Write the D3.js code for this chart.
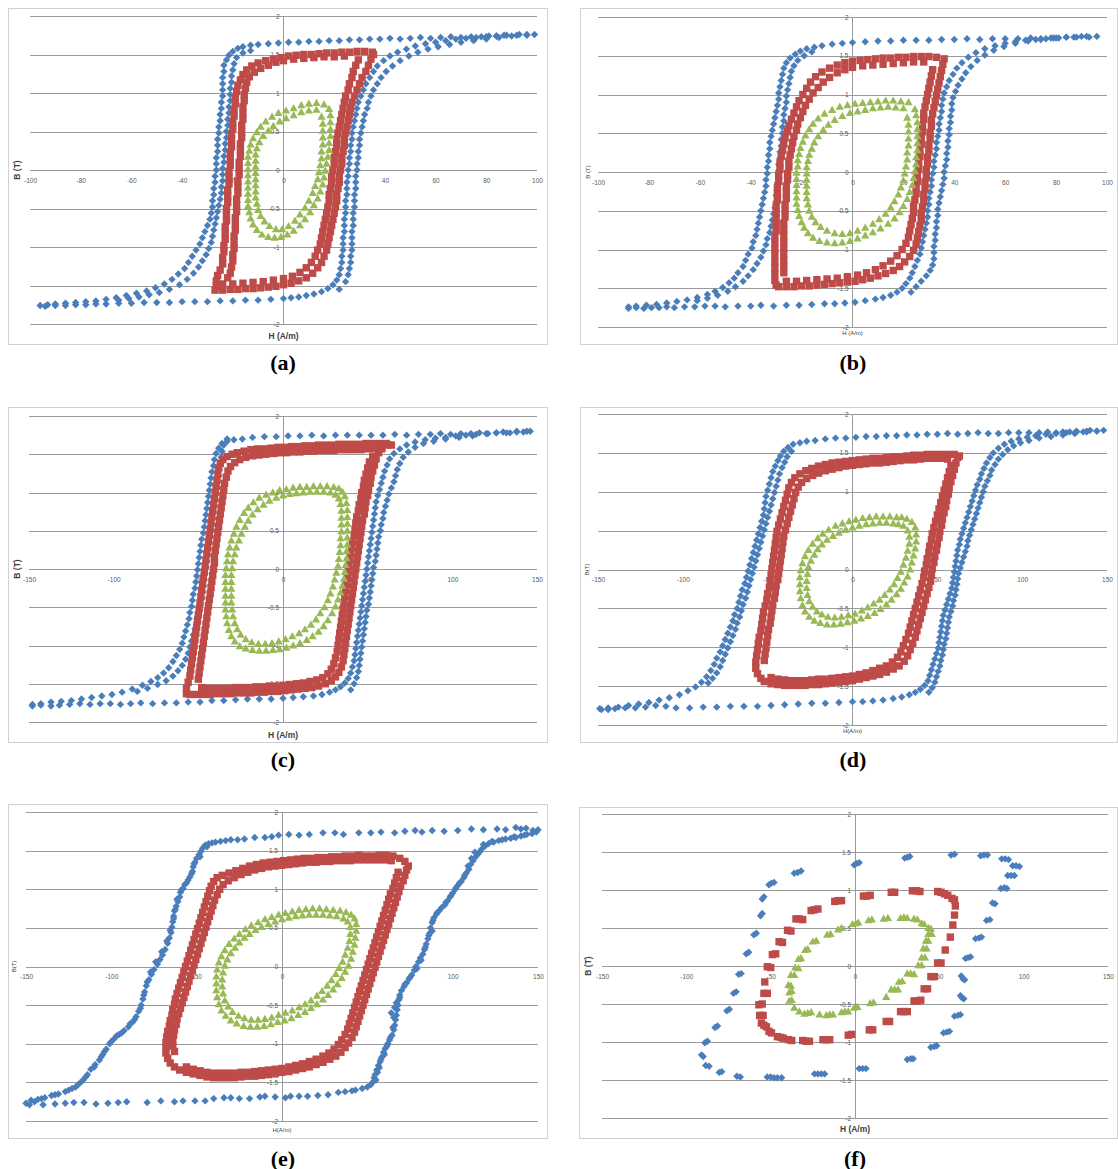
<!DOCTYPE html>
<html>
<head>
<meta charset="utf-8">
<script src="https://cdn.jsdelivr.net/npm/d3@7"></script>
<style>
  html, body { margin: 0; padding: 0; background: #ffffff; }
  svg { display: block; }
</style>
</head>
<body>
<svg id="fig" width="1118" height="1169"></svg>
<script>
// Tick values shared by the six hysteresis plots
const ticksB = [-2, -1.5, -1, -0.5, 0, 0.5, 1, 1.5, 2];
const ticksH100 = [-100, -80, -60, -40, -20, 0, 20, 40, 60, 80, 100];
const ticksH150 = [-150, -100, -50, 0, 50, 100, 150];
const panelLetters = ["(a)", "(b)", "(c)", "(d)", "(e)", "(f)"];

// ---------- (a) measured B-H points, [H (A/m), B (T)] ----------
const aBlue = [
  // descending branch: upper saturation, left flank, lower tail
  [99,1.76],[96,1.75],[93,1.76],[90,1.74],[87,1.75],[84,1.74],[81,1.74],[78,1.73],[74,1.73],[70,1.72],[66,1.73],[62,1.72],[58,1.71],[54,1.72],[50,1.71],[46,1.70],[42,1.71],[38,1.70],[34,1.70],[30,1.69],[26,1.69],[22,1.68],[18,1.68],[14,1.67],[10,1.67],[6,1.66],[2,1.66],[-2,1.65],[-6,1.64],[-10,1.63],[-13,1.62],[-16,1.60],[-18,1.58],[-20,1.54],[-21.5,1.49],[-22.5,1.43],[-23.5,1.36],[-23.5,1.28],[-24,1.20],[-24,1.12],[-24,1.04],[-24,0.96],[-24.5,0.88],[-24.5,0.80],[-25,0.72],[-25,0.64],[-25.5,0.56],[-25.5,0.48],[-26,0.40],[-26,0.32],[-26,0.24],[-26.5,0.16],[-26.5,0.08],[-26.5,0],[-27,-0.08],[-27,-0.16],[-27.5,-0.24],[-27.5,-0.32],[-28,-0.40],[-28,-0.48],[-28.5,-0.56],[-29,-0.64],[-30,-0.72],[-31,-0.80],[-32,-0.88],[-33,-0.96],[-34.5,-1.04],[-36,-1.12],[-37.5,-1.20],[-39,-1.28],[-41.5,-1.35],[-44,-1.42],[-47,-1.48],[-50.5,-1.53],[-54,-1.57],[-58,-1.60],[-62,-1.63],[-66,-1.66],[-70,-1.68],[-74,-1.70],[-78,-1.71],[-82,-1.72],[-86,-1.73],[-90,-1.74],[-93,-1.75],[-96,-1.76],
  [-13,1.55],[-16,1.52],[-18.5,1.46],[-19.5,1.38],[-20,1.30],[-20.5,1.22],[-20.5,1.14],[-21,1.06],[-21,0.98],[-21,0.90],[-21.5,0.82],[-21.5,0.74],[-22,0.66],[-22,0.58],[-22.5,0.50],[-22.5,0.42],[-23,0.34],[-23,0.26],[-23.5,0.18],[-23.5,0.10],[-24,0.02],[-24,-0.06],[-24,-0.14],[-24.5,-0.22],[-24.5,-0.30],[-25,-0.38],[-25.5,-0.46],[-26,-0.54],[-26.5,-0.62],[-27,-0.70],[-27.5,-0.78],[-28,-0.86],[-28.5,-0.94],[-29.5,-1.02],[-30.5,-1.10],[-32,-1.18],[-33.5,-1.26],[-35.5,-1.34],[-38,-1.42],[-41,-1.49],[-45,-1.55],[-49,-1.59],[-53,-1.62],[-57,-1.65],[-61,-1.67],[-65,-1.69],
  // ascending branch: lower saturation, right flank, upper knee
  [-94,-1.77],[-90,-1.76],[-86,-1.76],[-82,-1.75],[-78,-1.75],[-74,-1.74],[-70,-1.74],[-65,-1.73],[-60,-1.73],[-55,-1.72],[-50,-1.72],[-45,-1.72],[-40,-1.71],[-35,-1.71],[-30,-1.71],[-25,-1.70],[-20,-1.70],[-15,-1.69],[-10,-1.69],[-5,-1.68],[0,-1.67],[3,-1.66],[6,-1.65],[9,-1.63],[12,-1.61],[15,-1.58],[17.5,-1.54],[19.5,-1.49],[21,-1.43],[22,-1.36],[22.5,-1.28],[23,-1.20],[23,-1.12],[23.5,-1.04],[23.5,-0.96],[23.5,-0.88],[24,-0.80],[24,-0.72],[24,-0.64],[24.5,-0.56],[24.5,-0.48],[24.5,-0.40],[25,-0.32],[25,-0.24],[25,-0.16],[25.5,-0.08],[25.5,0],[26,0.08],[26,0.16],[26.5,0.24],[26.5,0.32],[27,0.40],[27,0.48],[27.5,0.56],[28,0.64],[28.5,0.72],[29,0.80],[29.5,0.88],[30.5,0.96],[31.5,1.04],[32.5,1.12],[34,1.20],[35.5,1.28],[37,1.35],[39.5,1.42],[42,1.48],[45,1.53],[48.5,1.57],[52,1.61],[56,1.64],[60,1.66],[64,1.68],[68,1.70],[72,1.71],[76,1.72],[80,1.73],[84,1.74],[88,1.75],[92,1.75],[96,1.76],
  [22,-1.55],[24.5,-1.45],[25.5,-1.36],[26,-1.28],[26.5,-1.20],[26.5,-1.12],[27,-1.04],[27,-0.96],[27,-0.88],[27,-0.80],[27.5,-0.72],[27.5,-0.64],[27.5,-0.56],[28,-0.48],[28,-0.40],[28,-0.32],[28.5,-0.24],[28.5,-0.16],[28.5,-0.08],[29,0],[29,0.08],[29.5,0.16],[29.5,0.24],[30,0.32],[30,0.40],[30.5,0.48],[31,0.56],[31.5,0.64],[32,0.72],[33,0.80],[33.5,0.88],[34.5,0.96],[35.5,1.04],[37,1.12],[38.5,1.20],[40.5,1.28],[43,1.35],[46,1.42],[49.5,1.48],[53,1.53],[57,1.57],[61,1.60],[65.5,1.63],[70,1.66],[75,1.68],[80,1.70],[85,1.72]
];
const aRed = [
  [35,1.53],[32,1.54],[29,1.54],[26,1.53],[23,1.53],[20,1.52],[17,1.52],[14,1.51],[11,1.50],[8,1.50],[5,1.49],[2,1.48],[-1,1.46],[-4,1.44],[-7,1.42],[-10,1.39],[-12.5,1.35],[-14.5,1.30],[-16,1.24],[-17,1.17],[-18,1.10],[-18.5,1.02],[-19,0.94],[-19,0.86],[-19.5,0.78],[-19.5,0.70],[-20,0.62],[-20,0.54],[-20.5,0.46],[-20.5,0.38],[-20.5,0.30],[-21,0.22],[-21,0.14],[-21,0.06],[-21.5,-0.02],[-21.5,-0.10],[-21.5,-0.18],[-22,-0.26],[-22,-0.34],[-22,-0.42],[-22.5,-0.50],[-22.5,-0.58],[-22.5,-0.66],[-23,-0.74],[-23,-0.82],[-23,-0.90],[-23.5,-0.98],[-23.5,-1.06],[-24,-1.14],[-24,-1.22],[-25,-1.30],[-26,-1.37],[-26.5,-1.44],[-26.5,-1.51],
  [-6,1.36],[-9,1.32],[-11.5,1.27],[-13.5,1.21],[-14.5,1.14],[-15,1.06],[-15.5,0.98],[-15.5,0.90],[-16,0.82],[-16,0.74],[-16,0.66],[-16.5,0.58],[-16.5,0.50],[-16.5,0.42],[-17,0.34],[-17,0.26],[-17,0.18],[-17.5,0.10],[-17.5,0.02],[-17.5,-0.06],[-18,-0.14],[-18,-0.22],[-18,-0.30],[-18.5,-0.38],[-18.5,-0.46],[-18.5,-0.54],[-19,-0.62],[-19,-0.70],[-19,-0.78],[-19.5,-0.86],[-19.5,-0.94],[-19.5,-1.02],[-20,-1.10],[-20,-1.18],[-20.5,-1.26],[-21,-1.34],[-22,-1.40],
  [-27,-1.56],[-24,-1.56],[-21,-1.55],[-18,-1.55],[-15,-1.54],[-12,-1.54],[-9,-1.53],[-6,-1.52],[-3,-1.51],[0,-1.49],[3,-1.47],[6,-1.44],[9,-1.40],[11.5,-1.34],[13.5,-1.27],[15,-1.20],[16,-1.12],[17,-1.04],[17.5,-0.96],[18,-0.88],[18.5,-0.80],[19,-0.72],[19.5,-0.64],[20,-0.56],[20.5,-0.48],[21,-0.40],[21,-0.32],[21.5,-0.24],[22,-0.16],[22,-0.08],[22.5,0],[23,0.08],[23,0.16],[23.5,0.24],[24,0.32],[24,0.40],[24.5,0.48],[25,0.56],[25.5,0.64],[26,0.72],[26.5,0.80],[27,0.88],[28,0.96],[29,1.04],[30,1.12],[31,1.20],[32.5,1.28],[33.5,1.36],[34.5,1.44],[35.5,1.50],
  [-24,-1.48],[-20,-1.48],[-16,-1.47],[-12,-1.46],[-8,-1.45],[-4,-1.43],[0,-1.41],[3.5,-1.38],[6.5,-1.33],[9,-1.27],[11,-1.20],[12.5,-1.12],[13.5,-1.04],[14.5,-0.96],[15,-0.88],[15.5,-0.80],[16,-0.72],[16.5,-0.64],[17,-0.56],[17.5,-0.48],[18,-0.40],[18,-0.32],[18.5,-0.24],[19,-0.16],[19,-0.08],[19.5,0],[20,0.08],[20,0.16],[20.5,0.24],[21,0.32],[21,0.40],[21.5,0.48],[22,0.56],[22.5,0.64],[23,0.72],[23.5,0.80],[24,0.88],[24.5,0.96],[25.5,1.04],[26,1.12],[27,1.20],[27.5,1.28],[28.5,1.36],[29.5,1.43],
  [-3,1.40],[0,1.42],[4,1.44],[8,1.45],[12,1.46],[16,1.47],[20,1.47],[24,1.48]
];
const aGreen = [
  [16,0.85],[13,0.87],[10,0.86],[7,0.84],[4,0.80],[1,0.77],[-2,0.74],[-4.5,0.69],[-7,0.63],[-9,0.56],[-10.5,0.49],[-12,0.41],[-13,0.33],[-13.5,0.25],[-14,0.17],[-14,0.09],[-14,0.01],[-14,-0.07],[-14,-0.15],[-14,-0.23],[-14,-0.31],[-14,-0.39],[-14,-0.47],[-13.5,-0.55],[-13,-0.63],[-12,-0.71],[-10.5,-0.78],[-8.5,-0.84],[-6,-0.87],[-3.5,-0.88],[-1,-0.87],[1.5,-0.84],[4,-0.79],[6.5,-0.72],[8.5,-0.64],[10.5,-0.55],[12,-0.46],[13.5,-0.37],[14.5,-0.28],[15.5,-0.19],[16,-0.10],[16.5,-0.01],[17,0.08],[17.5,0.17],[18,0.26],[18,0.35],[18.5,0.44],[18.5,0.53],[18.5,0.62],[18.5,0.71],[18,0.79],
  [13,0.78],[10,0.77],[7,0.75],[4,0.71],[1,0.67],[-1.5,0.63],[-4,0.57],[-6,0.51],[-8,0.44],[-9.5,0.36],[-10.5,0.28],[-11,0.20],[-11,0.12],[-11,0.04],[-11,-0.04],[-11,-0.12],[-11,-0.20],[-11,-0.28],[-11,-0.36],[-10.5,-0.44],[-10,-0.52],[-9,-0.60],[-7.5,-0.67],[-5.5,-0.73],[-3,-0.77],[-0.5,-0.77],[2,-0.73],[4.5,-0.66],[6.5,-0.58],[8.5,-0.49],[10,-0.40],[11.5,-0.30],[12.5,-0.21],[13.5,-0.12],[14,-0.03],[14.5,0.06],[15,0.15],[15,0.24],[15.5,0.33],[15.5,0.42],[15.5,0.51],[15.5,0.60],[15,0.69]
];

// ---------- (b) ----------
const bBlue = [
  [96,1.75],[93,1.74],[90,1.75],[87,1.74],[84,1.74],[81,1.73],[78,1.73],[74,1.72],[70,1.73],[65,1.72],[60,1.72],[55,1.72],[50,1.71],[45,1.72],[40,1.71],[35,1.71],[30,1.70],[25,1.70],[20,1.70],[15,1.69],[10,1.69],[5,1.68],[0,1.67],[-4,1.66],[-8,1.65],[-12,1.63],[-15,1.61],[-18,1.59],[-20.5,1.56],[-22.5,1.52],[-24.5,1.47],[-26,1.41],[-27,1.34],[-27.5,1.26],[-28,1.18],[-28.5,1.10],[-29,1.02],[-29,0.94],[-29.5,0.86],[-30,0.78],[-30.5,0.70],[-31,0.62],[-31.5,0.54],[-32,0.46],[-32.5,0.38],[-32.5,0.30],[-33,0.22],[-33,0.14],[-33.5,0.06],[-33.5,-0.02],[-34,-0.10],[-34,-0.18],[-34.5,-0.26],[-35,-0.34],[-35.5,-0.42],[-36,-0.50],[-36.5,-0.58],[-37,-0.66],[-37.5,-0.74],[-38,-0.82],[-39,-0.90],[-39.5,-0.98],[-41,-1.06],[-42,-1.14],[-43,-1.22],[-45,-1.30],[-46.5,-1.37],[-48.5,-1.43],[-51,-1.49],[-54,-1.54],[-57,-1.58],[-61,-1.62],[-65,-1.65],[-69,-1.67],[-73,-1.69],[-77,-1.71],[-81,-1.72],[-85,-1.73],[-88,-1.74],
  [-16,1.55],[-19,1.50],[-21.5,1.44],[-23,1.37],[-24,1.30],[-24.5,1.22],[-25,1.14],[-25.5,1.06],[-26,0.98],[-26,0.90],[-26.5,0.82],[-27,0.74],[-27,0.66],[-27.5,0.58],[-27.5,0.50],[-28,0.42],[-28,0.34],[-28.5,0.26],[-28.5,0.18],[-29,0.10],[-29,0.02],[-29,-0.06],[-29.5,-0.14],[-29.5,-0.22],[-30,-0.30],[-30,-0.38],[-30.5,-0.46],[-31,-0.54],[-31.5,-0.62],[-32,-0.70],[-32.5,-0.78],[-33.5,-0.86],[-34,-0.94],[-35,-1.02],[-36,-1.10],[-37.5,-1.18],[-39,-1.26],[-41,-1.34],[-43,-1.41],[-46,-1.48],[-49,-1.54],[-53,-1.59],[-57,-1.63],[-61,-1.66],
  [-88,-1.76],[-85,-1.75],[-82,-1.76],[-79,-1.75],[-76,-1.75],[-73,-1.74],[-70,-1.75],[-66,-1.74],[-62,-1.74],[-58,-1.73],[-54,-1.73],[-50,-1.74],[-45,-1.73],[-40,-1.73],[-36,-1.72],[-31,-1.73],[-26,-1.72],[-21,-1.72],[-16,-1.71],[-11,-1.70],[-7,-1.70],[-3,-1.69],[1,-1.68],[5,-1.66],[9,-1.64],[12,-1.62],[15,-1.59],[17.5,-1.55],[19.5,-1.50],[21,-1.44],[22.5,-1.37],[23.5,-1.30],[24.5,-1.22],[25.5,-1.14],[26.5,-1.06],[27,-0.98],[27.5,-0.90],[28,-0.82],[28.5,-0.74],[29,-0.66],[29.5,-0.58],[29.5,-0.50],[30,-0.42],[30,-0.34],[30.5,-0.26],[31,-0.18],[31,-0.10],[31.5,-0.02],[32,0.06],[32,0.14],[32.5,0.22],[33,0.30],[33,0.38],[33.5,0.46],[34,0.54],[34,0.62],[34.5,0.70],[35,0.78],[35,0.86],[35.5,0.94],[36,1.02],[37,1.10],[38,1.18],[39.5,1.26],[41,1.34],[43,1.41],[45.5,1.48],[48.5,1.54],[52,1.59],[56,1.63],[60,1.66],[64,1.68],[68,1.70],[72,1.71],[76,1.72],[80,1.73],[84,1.74],[88,1.74],[92,1.75],
  [23,-1.55],[25,-1.48],[27,-1.41],[29,-1.34],[30.5,-1.27],[31.5,-1.20],[32,-1.12],[32,-1.04],[32,-0.96],[32.5,-0.88],[32.5,-0.80],[33,-0.72],[33,-0.64],[33.5,-0.56],[33.5,-0.48],[34,-0.40],[34.5,-0.32],[35,-0.24],[35.5,-0.16],[36,-0.08],[36,0],[36.5,0.08],[37,0.16],[37,0.24],[37.5,0.32],[37.5,0.40],[38,0.48],[38,0.56],[38.5,0.64],[38.5,0.72],[39,0.80],[39,0.88],[39.5,0.96],[40.5,1.04],[41.5,1.12],[43,1.20],[44.5,1.28],[46.5,1.36],[49,1.44],[52,1.51],[55.5,1.57],[59.5,1.62],[64,1.66],[69,1.69],[74,1.71],[79,1.73]
];
const bRed = [
  [36,1.46],[33,1.48],[30,1.49],[27,1.49],[24,1.49],[21,1.48],[18,1.48],[15,1.47],[12,1.47],[9,1.46],[6,1.45],[3,1.44],[0,1.43],[-3,1.41],[-6,1.38],[-9,1.34],[-12,1.29],[-14.5,1.23],[-16.5,1.16],[-18,1.08],[-19.5,1.00],[-21,0.92],[-22,0.84],[-23,0.76],[-24,0.68],[-25,0.60],[-25.5,0.52],[-26.5,0.44],[-27,0.36],[-27.5,0.28],[-28,0.20],[-28.5,0.12],[-28.5,0.04],[-29,-0.04],[-29,-0.12],[-29.5,-0.20],[-29.5,-0.28],[-29.5,-0.36],[-30,-0.44],[-30,-0.52],[-30,-0.60],[-30,-0.68],[-30,-0.76],[-30.5,-0.84],[-30.5,-0.92],[-30.5,-1.00],[-30.5,-1.08],[-30.5,-1.16],[-30.5,-1.24],[-30.5,-1.32],[-30.5,-1.40],[-30,-1.46],
  [28,1.42],[24,1.42],[20,1.41],[16,1.40],[12,1.39],[8,1.38],[4,1.37],[0,1.35],[-3,1.32],[-6,1.28],[-9,1.22],[-11.5,1.16],[-13.5,1.09],[-15.5,1.02],[-17,0.94],[-18.5,0.86],[-19.5,0.78],[-20.5,0.70],[-21.5,0.62],[-22,0.54],[-23,0.46],[-23.5,0.38],[-24,0.30],[-24.5,0.22],[-25,0.14],[-25,0.06],[-25.5,-0.02],[-25.5,-0.10],[-26,-0.18],[-26,-0.26],[-26,-0.34],[-26.5,-0.42],[-26.5,-0.50],[-26.5,-0.58],[-27,-0.66],[-27,-0.74],[-27,-0.82],[-27,-0.90],[-27,-0.98],[-27,-1.06],[-27,-1.14],[-27,-1.22],[-27,-1.30],
  [-29,-1.48],[-26,-1.48],[-23,-1.48],[-20,-1.47],[-17,-1.47],[-14,-1.46],[-11,-1.45],[-8,-1.44],[-5,-1.43],[-2,-1.42],[1,-1.41],[4,-1.39],[7,-1.37],[10,-1.34],[13,-1.31],[16,-1.27],[18.5,-1.22],[20.5,-1.16],[22.5,-1.09],[24,-1.01],[25,-0.93],[25.5,-0.85],[26,-0.77],[26.5,-0.69],[27,-0.61],[27,-0.53],[27.5,-0.45],[28,-0.37],[28,-0.29],[28.5,-0.21],[28.5,-0.13],[29,-0.05],[29,0.03],[29.5,0.11],[29.5,0.19],[30,0.27],[30,0.35],[30.5,0.43],[30.5,0.51],[31,0.59],[31,0.67],[31.5,0.75],[32,0.83],[32.5,0.91],[33,0.99],[33.5,1.07],[34,1.15],[34.5,1.23],[35,1.31],[35.5,1.39],
  [-26,-1.41],[-22,-1.41],[-18,-1.40],[-14,-1.39],[-10,-1.38],[-6,-1.37],[-2,-1.35],[2,-1.33],[5.5,-1.30],[9,-1.26],[12,-1.21],[15,-1.15],[17.5,-1.08],[19.5,-1.00],[21,-0.92],[22,-0.84],[22.5,-0.76],[23,-0.68],[23.5,-0.60],[24,-0.52],[24,-0.44],[24.5,-0.36],[25,-0.28],[25,-0.20],[25.5,-0.12],[25.5,-0.04],[26,0.04],[26,0.12],[26.5,0.20],[26.5,0.28],[27,0.36],[27,0.44],[27.5,0.52],[27.5,0.60],[28,0.68],[28,0.76],[28.5,0.84],[29,0.92],[29.5,1.00],[30,1.08],[30.5,1.16],[31,1.24],[31.5,1.32]
];
const bGreen = [
  [22,0.90],[19,0.91],[16,0.92],[13,0.92],[10,0.91],[7,0.90],[4,0.89],[1,0.88],[-2,0.86],[-5,0.84],[-8,0.80],[-11,0.75],[-13.5,0.69],[-15.5,0.62],[-17,0.55],[-18.5,0.47],[-19.5,0.39],[-20.5,0.31],[-21,0.23],[-21.5,0.15],[-21.5,0.07],[-22,-0.01],[-22,-0.09],[-22,-0.17],[-22,-0.25],[-22,-0.33],[-22,-0.41],[-21.5,-0.49],[-21,-0.57],[-20,-0.65],[-19,-0.72],[-17.5,-0.79],[-15.5,-0.85],[-13,-0.89],[-10,-0.91],[-7,-0.92],[-4,-0.91],[-1,-0.89],[2,-0.86],[5,-0.82],[8,-0.78],[11,-0.73],[14,-0.67],[16.5,-0.60],[18.5,-0.52],[20,-0.44],[21.5,-0.35],[22.5,-0.26],[23.5,-0.17],[24,-0.08],[24.5,0.01],[25,0.10],[25,0.19],[25.5,0.28],[25.5,0.37],[25.5,0.46],[25.5,0.55],[25.5,0.64],[25,0.73],[24.5,0.81],
  [20,0.82],[17,0.83],[14,0.84],[11,0.83],[8,0.82],[5,0.80],[2,0.78],[-1,0.76],[-4,0.72],[-7,0.67],[-9.5,0.61],[-11.5,0.54],[-13.5,0.46],[-15,0.38],[-16,0.30],[-17,0.22],[-17.5,0.14],[-18,0.06],[-18,-0.02],[-18,-0.10],[-18,-0.18],[-18,-0.26],[-18,-0.34],[-17.5,-0.42],[-17,-0.50],[-16,-0.58],[-14.5,-0.65],[-12.5,-0.71],[-10,-0.76],[-7,-0.79],[-4,-0.80],[-1,-0.79],[2,-0.76],[5,-0.72],[8,-0.67],[10.5,-0.61],[13,-0.54],[15,-0.46],[16.5,-0.38],[18,-0.29],[19,-0.20],[20,-0.11],[20.5,-0.02],[21,0.07],[21.5,0.16],[21.5,0.25],[22,0.34],[22,0.43],[22,0.52],[22,0.61],[21.5,0.70]
];

// ---------- (c) ----------
const cBlue = [
  [146,1.80],[142,1.79],[138,1.80],[134,1.78],[130,1.79],[126,1.78],[121,1.77],[116,1.78],[111,1.77],[105,1.77],[99,1.76],[93,1.77],[87,1.76],[80,1.76],[73,1.75],[66,1.76],[59,1.75],[52,1.75],[45,1.75],[38,1.75],[31,1.75],[24,1.74],[17,1.75],[10,1.74],[3,1.74],[-4,1.73],[-11,1.73],[-18,1.72],[-24,1.70],[-29,1.69],[-33,1.67],[-36,1.64],[-38,1.58],[-39.5,1.51],[-40.5,1.43],[-41,1.35],[-42,1.27],[-42.5,1.19],[-43,1.11],[-43.5,1.03],[-44,0.95],[-44.5,0.87],[-45,0.79],[-45.5,0.71],[-46,0.63],[-46.5,0.55],[-47,0.47],[-48,0.39],[-48.5,0.31],[-49,0.23],[-49.5,0.15],[-50,0.07],[-50.5,-0.01],[-51,-0.09],[-51.5,-0.17],[-52,-0.25],[-53,-0.33],[-53.5,-0.41],[-54,-0.49],[-55,-0.57],[-55.5,-0.65],[-56.5,-0.73],[-57.5,-0.81],[-58.5,-0.89],[-59.5,-0.97],[-61,-1.05],[-63,-1.13],[-65,-1.21],[-67.5,-1.29],[-70.5,-1.36],[-74,-1.42],[-78,-1.47],[-83,-1.52],[-89,-1.57],[-95,-1.61],[-101,-1.64],[-107,-1.66],[-113,-1.68],[-119,-1.70],[-125,-1.72],[-131,-1.73],[-137,-1.74],[-143,-1.76],[-148,-1.77],
  [-33,1.70],[-35,1.62],[-36,1.54],[-36.5,1.46],[-37,1.38],[-37.5,1.30],[-38,1.22],[-38.5,1.14],[-39,1.06],[-39.5,0.98],[-40,0.90],[-40.5,0.82],[-41,0.74],[-41.5,0.66],[-42,0.58],[-42.5,0.50],[-43,0.42],[-43.5,0.34],[-44,0.26],[-44.5,0.18],[-45,0.10],[-45.5,0.02],[-46,-0.06],[-46.5,-0.14],[-47,-0.22],[-47.5,-0.30],[-48,-0.38],[-49,-0.46],[-49.5,-0.54],[-50.5,-0.62],[-51,-0.70],[-52,-0.78],[-53,-0.86],[-54,-0.94],[-55,-1.02],[-56,-1.10],[-57.5,-1.18],[-59.5,-1.26],[-62,-1.33],[-65,-1.40],[-69,-1.46],[-74,-1.51],[-80,-1.56],[-86,-1.60],
  [-148,-1.79],[-143,-1.78],[-137,-1.79],[-132,-1.78],[-126,-1.77],[-120,-1.76],[-114,-1.77],[-108,-1.76],[-102,-1.76],[-96,-1.77],[-90,-1.76],[-84,-1.75],[-77,-1.76],[-70,-1.75],[-63,-1.75],[-56,-1.74],[-49,-1.74],[-42,-1.72],[-35,-1.72],[-28,-1.71],[-21,-1.70],[-14,-1.70],[-7,-1.70],[0,-1.69],[6,-1.68],[12,-1.67],[18,-1.66],[23,-1.64],[27.5,-1.61],[31,-1.58],[34,-1.54],[36.5,-1.49],[38.5,-1.43],[40,-1.36],[41,-1.28],[42,-1.20],[42.5,-1.12],[43,-1.04],[43.5,-0.96],[44,-0.88],[44.5,-0.80],[45,-0.72],[45.5,-0.64],[46,-0.56],[46.5,-0.48],[47,-0.40],[47.5,-0.32],[48,-0.24],[48.5,-0.16],[49,-0.08],[49.5,0],[50,0.08],[50.5,0.16],[51,0.24],[51.5,0.32],[52,0.40],[52.5,0.48],[53,0.56],[53.5,0.64],[54,0.72],[54.5,0.80],[55,0.88],[56,0.96],[57,1.04],[58,1.12],[59,1.20],[60,1.28],[61.5,1.36],[63,1.44],[65.5,1.51],[69,1.57],[73,1.62],[78,1.66],[84,1.69],[90,1.71],[96,1.72],[102,1.74],[108,1.75],[114,1.76],[120,1.77],[126,1.78],[132,1.78],[138,1.79],[144,1.80],
  [40,-1.58],[42,-1.50],[43.5,-1.42],[44.5,-1.34],[45,-1.26],[45.5,-1.18],[46,-1.10],[46.5,-1.02],[47,-0.94],[47.5,-0.86],[48,-0.78],[48.5,-0.70],[49,-0.62],[49.5,-0.54],[50.5,-0.46],[51,-0.38],[51.5,-0.30],[52,-0.22],[52.5,-0.14],[53,-0.06],[53.5,0.02],[54.5,0.10],[55,0.18],[55.5,0.26],[56,0.34],[56.5,0.42],[57.5,0.50],[58,0.58],[59,0.66],[59.5,0.74],[60.5,0.82],[61.5,0.90],[62.5,0.98],[64,1.06],[65.5,1.14],[66.5,1.22],[67.5,1.30],[69,1.38],[71,1.46],[74,1.53],[78,1.59],[83,1.64],[89,1.67],[96,1.70],[104,1.72],[112,1.74]
];
const cRed = [
  [64,1.62],[61,1.64],[57,1.64],[53,1.64],[49,1.64],[45,1.63],[41,1.63],[37,1.63],[33,1.63],[29,1.62],[25,1.62],[21,1.62],[17,1.61],[13,1.61],[9,1.60],[5,1.60],[1,1.59],[-3,1.59],[-7,1.58],[-11,1.57],[-15,1.57],[-19,1.56],[-23,1.54],[-27,1.52],[-30,1.50],[-33,1.47],[-35.5,1.43],[-37,1.38],[-38,1.32],[-38.5,1.24],[-39,1.16],[-39.5,1.08],[-40,1.00],[-40.5,0.92],[-41,0.84],[-41.5,0.76],[-42,0.68],[-42.5,0.60],[-43,0.52],[-43.5,0.44],[-44,0.36],[-44.5,0.28],[-45,0.20],[-45.5,0.12],[-46,0.04],[-46.5,-0.04],[-47,-0.12],[-47.5,-0.20],[-48,-0.28],[-48.5,-0.36],[-49,-0.44],[-49.5,-0.52],[-50,-0.60],[-50.5,-0.68],[-51,-0.76],[-51.5,-0.84],[-52,-0.92],[-52.5,-1.00],[-53,-1.08],[-53.5,-1.16],[-54,-1.24],[-54.5,-1.32],[-55,-1.40],[-56,-1.48],[-57,-1.56],[-57,-1.63],
  [58,1.57],[54,1.57],[50,1.57],[46,1.56],[42,1.56],[38,1.56],[34,1.56],[30,1.55],[26,1.55],[22,1.55],[18,1.54],[14,1.54],[10,1.53],[6,1.53],[2,1.52],[-2,1.52],[-6,1.51],[-10,1.50],[-14,1.49],[-18,1.48],[-22,1.46],[-25.5,1.43],[-28.5,1.39],[-31,1.34],[-32.5,1.28],[-33.5,1.20],[-34.5,1.12],[-35,1.04],[-35.5,0.96],[-36,0.88],[-36.5,0.80],[-37,0.72],[-37.5,0.64],[-38,0.56],[-38.5,0.48],[-39,0.40],[-39.5,0.32],[-40,0.24],[-40.5,0.16],[-40.5,0.08],[-41,0],[-41.5,-0.08],[-42,-0.16],[-42.5,-0.24],[-43,-0.32],[-43.5,-0.40],[-44,-0.48],[-44.5,-0.56],[-45,-0.64],[-45.5,-0.72],[-46,-0.80],[-46.5,-0.88],[-47,-0.96],[-47.5,-1.04],[-48,-1.12],[-48.5,-1.20],[-49,-1.28],[-49.5,-1.36],[-50,-1.44],
  [-55,-1.64],[-51,-1.64],[-47,-1.64],[-43,-1.64],[-39,-1.63],[-35,-1.63],[-31,-1.63],[-27,-1.62],[-23,-1.62],[-19,-1.62],[-15,-1.61],[-11,-1.61],[-7,-1.60],[-3,-1.60],[1,-1.59],[5,-1.58],[9,-1.57],[13,-1.56],[17,-1.55],[21,-1.53],[25,-1.50],[28.5,-1.46],[31,-1.41],[33,-1.35],[34.5,-1.28],[35.5,-1.20],[36,-1.12],[36.5,-1.04],[37,-0.96],[37.5,-0.88],[38,-0.80],[38.5,-0.72],[39,-0.64],[39.5,-0.56],[40,-0.48],[40.5,-0.40],[41,-0.32],[41.5,-0.24],[42,-0.16],[42.5,-0.08],[43,0],[43.5,0.08],[44,0.16],[44.5,0.24],[45,0.32],[45.5,0.40],[46,0.48],[46.5,0.56],[47,0.64],[48,0.72],[48.5,0.80],[49,0.88],[50,0.96],[50.5,1.04],[51.5,1.12],[52,1.20],[53,1.28],[54,1.36],[55,1.44],[56.5,1.52],[58.5,1.58],[62,1.62],
  [-48,-1.55],[-44,-1.56],[-40,-1.56],[-36,-1.56],[-32,-1.56],[-28,-1.55],[-24,-1.55],[-20,-1.55],[-16,-1.54],[-12,-1.54],[-8,-1.53],[-4,-1.53],[0,-1.52],[4,-1.51],[8,-1.50],[12,-1.49],[16,-1.47],[20,-1.45],[23.5,-1.42],[26.5,-1.37],[28.5,-1.31],[30,-1.24],[31,-1.16],[32,-1.08],[32.5,-1.00],[33,-0.92],[33.5,-0.84],[34,-0.76],[34.5,-0.68],[35,-0.60],[35.5,-0.52],[36,-0.44],[36.5,-0.36],[37,-0.28],[37.5,-0.20],[38,-0.12],[38.5,-0.04],[39,0.04],[39.5,0.12],[40,0.20],[40.5,0.28],[41,0.36],[42,0.44],[42.5,0.52],[43,0.60],[43.5,0.68],[44.5,0.76],[45,0.84],[46,0.92],[46.5,1.00],[47.5,1.08],[48,1.16],[49,1.24],[50,1.32],[51,1.40],[53,1.47]
];
const cGreen = [
  [30,1.07],[26,1.08],[22,1.08],[18,1.08],[14,1.07],[10,1.07],[6,1.06],[2,1.04],[-2,1.03],[-6,1.00],[-10,0.97],[-14,0.93],[-17.5,0.87],[-20.5,0.80],[-23,0.73],[-25.5,0.64],[-27.5,0.55],[-29,0.46],[-30.5,0.37],[-31.5,0.28],[-32.5,0.19],[-33,0.10],[-33.5,0.01],[-34,-0.08],[-34,-0.17],[-34,-0.26],[-34,-0.35],[-34,-0.44],[-34,-0.53],[-33.5,-0.62],[-33,-0.71],[-32,-0.80],[-30.5,-0.88],[-28.5,-0.95],[-25.5,-1.01],[-22,-1.04],[-18,-1.06],[-14,-1.07],[-10,-1.07],[-6,-1.06],[-2,-1.05],[2,-1.03],[6,-1.00],[10,-0.97],[14,-0.93],[17.5,-0.88],[21,-0.82],[24,-0.75],[26.5,-0.67],[29,-0.58],[31,-0.49],[32.5,-0.40],[34,-0.31],[35,-0.22],[36,-0.13],[36.5,-0.04],[37,0.05],[37.5,0.14],[37.5,0.23],[38,0.32],[38,0.41],[38,0.50],[38,0.59],[38,0.68],[38,0.77],[37.5,0.86],[36.5,0.95],[35,1.01],[33,1.05],
  [28,1.00],[24,1.01],[20,1.01],[16,1.01],[12,1.00],[8,0.99],[4,0.98],[0,0.96],[-4,0.93],[-8,0.89],[-11.5,0.84],[-15,0.78],[-18,0.71],[-20.5,0.63],[-22.5,0.55],[-24.5,0.46],[-26,0.37],[-27.5,0.28],[-28.5,0.19],[-29.5,0.10],[-30,0.01],[-30.5,-0.08],[-30.5,-0.17],[-30.5,-0.26],[-30.5,-0.35],[-30.5,-0.44],[-30,-0.53],[-29.5,-0.62],[-28.5,-0.71],[-27,-0.79],[-25,-0.86],[-22,-0.92],[-18.5,-0.96],[-14.5,-0.98],[-10.5,-0.98],[-6.5,-0.97],[-2.5,-0.95],[1.5,-0.92],[5.5,-0.88],[9.5,-0.84],[13,-0.79],[16.5,-0.73],[19.5,-0.66],[22,-0.58],[24.5,-0.50],[26.5,-0.41],[28,-0.32],[29.5,-0.23],[30.5,-0.14],[31.5,-0.05],[32.5,0.04],[33,0.13],[33.5,0.22],[34,0.31],[34,0.40],[34.5,0.49],[34.5,0.58],[34.5,0.67],[34.5,0.76],[34,0.85],[33,0.92],[31,0.97]
];

// ---------- (d) ----------
const dBlue = [
  [148,1.79],[144,1.78],[140,1.79],[136,1.77],[132,1.78],[128,1.77],[124,1.77],[120,1.76],[115,1.77],[110,1.76],[104,1.76],[98,1.76],[92,1.76],[86,1.75],[80,1.75],[74,1.76],[68,1.75],[62,1.74],[56,1.75],[50,1.74],[44,1.74],[38,1.73],[32,1.73],[26,1.72],[20,1.72],[14,1.71],[8,1.71],[2,1.70],[-4,1.69],[-10,1.69],[-16,1.68],[-22,1.66],[-27,1.65],[-31,1.63],[-35,1.61],[-38,1.57],[-40.5,1.52],[-42.5,1.46],[-44,1.40],[-45.5,1.33],[-47,1.26],[-48,1.18],[-49,1.10],[-50,1.02],[-51,0.94],[-51.5,0.86],[-52,0.78],[-52.5,0.70],[-53.5,0.62],[-54.5,0.54],[-55.5,0.46],[-56.5,0.38],[-57.5,0.30],[-58.5,0.22],[-59.5,0.14],[-60.5,0.06],[-61.5,-0.02],[-62.5,-0.10],[-63.5,-0.18],[-65,-0.26],[-66,-0.34],[-67,-0.42],[-68,-0.50],[-69.5,-0.58],[-70.5,-0.66],[-72,-0.74],[-73.5,-0.82],[-75,-0.90],[-76.5,-0.98],[-78,-1.06],[-80,-1.14],[-81.5,-1.22],[-83.5,-1.30],[-86,-1.38],[-89,-1.45],[-92.5,-1.51],[-97,-1.56],[-102,-1.61],[-108,-1.65],[-114,-1.68],[-120,-1.71],[-126,-1.73],[-132,-1.75],[-138,-1.77],[-144,-1.78],[-149,-1.79],
  [-36,1.52],[-38.5,1.45],[-40,1.38],[-41.5,1.31],[-43,1.23],[-44,1.15],[-45,1.07],[-46,0.99],[-47,0.91],[-48,0.83],[-49,0.75],[-50,0.67],[-51,0.59],[-52,0.51],[-53,0.43],[-54,0.35],[-55,0.27],[-56,0.19],[-57,0.11],[-58,0.03],[-59,-0.05],[-60,-0.13],[-61,-0.21],[-62,-0.29],[-63,-0.37],[-64.5,-0.45],[-65.5,-0.53],[-66.5,-0.61],[-68,-0.69],[-69,-0.77],[-70.5,-0.85],[-72,-0.93],[-73.5,-1.01],[-75,-1.09],[-76.5,-1.17],[-78,-1.25],[-80,-1.33],[-82.5,-1.40],[-85,-1.46],
  [-148,-1.80],[-144,-1.80],[-140,-1.79],[-134,-1.78],[-128,-1.78],[-122,-1.77],[-116,-1.75],[-110,-1.76],[-104,-1.78],[-96,-1.78],[-88,-1.77],[-80,-1.77],[-72,-1.76],[-64,-1.76],[-56,-1.76],[-48,-1.75],[-40,-1.74],[-32,-1.73],[-24,-1.72],[-16,-1.72],[-8,-1.71],[0,-1.70],[6,-1.70],[12,-1.69],[18,-1.68],[24,-1.66],[29,-1.64],[33.5,-1.61],[37,-1.58],[40,-1.54],[42.5,-1.49],[44.5,-1.43],[45.5,-1.36],[46.5,-1.29],[47.5,-1.22],[48.5,-1.15],[49.5,-1.08],[50.5,-1.01],[51,-0.94],[51.5,-0.87],[52,-0.80],[52.5,-0.73],[53,-0.66],[53.5,-0.59],[54.5,-0.52],[55.5,-0.45],[56.5,-0.38],[57.5,-0.31],[58.5,-0.24],[59,-0.17],[59.5,-0.10],[60,-0.03],[60.5,0.04],[61,0.11],[61.5,0.18],[62,0.25],[63,0.32],[63.5,0.39],[64.5,0.46],[65.5,0.53],[66.5,0.60],[67.5,0.67],[68.5,0.74],[69.5,0.81],[70.5,0.88],[71.5,0.95],[72.5,1.02],[73.5,1.09],[75,1.16],[76,1.23],[77.5,1.30],[79,1.37],[81,1.44],[83,1.50],[86,1.56],[89.5,1.61],[93.5,1.65],[98,1.68],[103,1.70],[108,1.72],[114,1.74],[120,1.75],[126,1.76],[132,1.77],[138,1.78],[144,1.78],
  [45,-1.58],[47,-1.52],[48.5,-1.45],[49.5,-1.38],[50.5,-1.31],[51.5,-1.24],[52,-1.17],[53,-1.10],[53.5,-1.03],[54,-0.96],[55,-0.89],[55.5,-0.82],[56,-0.75],[56.5,-0.68],[57,-0.61],[58,-0.54],[59,-0.47],[59.5,-0.40],[60.5,-0.33],[61,-0.26],[61.5,-0.19],[62,-0.12],[62.5,-0.05],[63.5,0.02],[64.5,0.09],[65.5,0.16],[66.5,0.23],[67.5,0.30],[68,0.37],[69,0.44],[70,0.51],[71,0.58],[72,0.65],[73,0.72],[74,0.79],[75,0.86],[76,0.93],[77,1.00],[78,1.07],[79.5,1.14],[81,1.21],[82,1.28],[84,1.35],[86,1.42],[88.5,1.48],[91.5,1.54],[95,1.59],[99,1.63],[104,1.66],[110,1.69],[117,1.71],[124,1.73],[131,1.75],[138,1.77]
];
const dRed = [
  [63,1.46],[60,1.48],[56,1.48],[52,1.48],[48,1.48],[44,1.48],[40,1.47],[36,1.47],[32,1.46],[28,1.45],[24,1.45],[20,1.44],[16,1.43],[12,1.43],[8,1.42],[4,1.41],[0,1.40],[-4,1.39],[-8,1.38],[-12,1.37],[-16,1.35],[-20,1.33],[-24,1.30],[-27.5,1.27],[-31,1.23],[-34,1.18],[-36,1.12],[-37.5,1.05],[-38.5,0.97],[-39.5,0.89],[-40.5,0.81],[-41.5,0.73],[-42.5,0.65],[-43.5,0.57],[-44.5,0.49],[-45,0.41],[-45.5,0.33],[-46,0.25],[-46.5,0.17],[-47,0.09],[-47.5,0.01],[-48,-0.07],[-48.5,-0.15],[-49,-0.23],[-50,-0.31],[-50.5,-0.39],[-51.5,-0.47],[-52.5,-0.55],[-53,-0.63],[-53.5,-0.71],[-54,-0.79],[-55,-0.87],[-55.5,-0.95],[-56,-1.03],[-56.5,-1.11],[-57,-1.19],[-57,-1.27],[-56,-1.34],[-54,-1.40],
  [56,1.42],[52,1.43],[48,1.43],[44,1.43],[40,1.42],[36,1.41],[32,1.41],[28,1.40],[24,1.39],[20,1.38],[16,1.37],[12,1.37],[8,1.36],[4,1.35],[0,1.34],[-4,1.33],[-8,1.31],[-12,1.29],[-16,1.27],[-20,1.24],[-23.5,1.21],[-27,1.17],[-30,1.12],[-32,1.06],[-33.5,0.99],[-34.5,0.91],[-35.5,0.83],[-36.5,0.75],[-37.5,0.67],[-38.5,0.59],[-39.5,0.51],[-40.5,0.43],[-41,0.35],[-41.5,0.27],[-42,0.19],[-42.5,0.11],[-43,0.03],[-43.5,-0.05],[-44,-0.13],[-45,-0.21],[-45.5,-0.29],[-46,-0.37],[-47,-0.45],[-47.5,-0.53],[-48,-0.61],[-48.5,-0.69],[-49.5,-0.77],[-50,-0.85],[-50.5,-0.93],[-51,-1.01],[-51.5,-1.09],[-52,-1.17],
  [-52,-1.44],[-48,-1.47],[-44,-1.48],[-40,-1.49],[-36,-1.49],[-32,-1.49],[-28,-1.49],[-24,-1.48],[-20,-1.48],[-16,-1.47],[-12,-1.46],[-8,-1.45],[-4,-1.44],[0,-1.43],[4,-1.41],[8,-1.39],[12,-1.37],[16,-1.35],[20,-1.32],[24,-1.28],[27.5,-1.24],[30.5,-1.18],[32.5,-1.11],[34,-1.03],[35.5,-0.95],[37,-0.87],[38,-0.79],[39,-0.71],[40,-0.63],[41,-0.55],[42,-0.47],[43,-0.39],[44,-0.31],[45,-0.23],[46,-0.15],[46.5,-0.07],[47,0.01],[48,0.09],[48.5,0.17],[49.5,0.25],[50,0.33],[51,0.41],[51.5,0.49],[52.5,0.57],[53,0.65],[54,0.73],[55,0.81],[55.5,0.89],[56.5,0.97],[57,1.05],[58,1.13],[59,1.21],[60,1.29],[61,1.37],[62,1.44],
  [-48,-1.39],[-44,-1.41],[-40,-1.42],[-36,-1.43],[-32,-1.43],[-28,-1.43],[-24,-1.42],[-20,-1.41],[-16,-1.41],[-12,-1.40],[-8,-1.39],[-4,-1.38],[0,-1.37],[4,-1.35],[8,-1.33],[12,-1.30],[16,-1.27],[20,-1.24],[23.5,-1.19],[26.5,-1.13],[28.5,-1.06],[30,-0.98],[31.5,-0.90],[33,-0.82],[34,-0.74],[35,-0.66],[36,-0.58],[37,-0.50],[38,-0.42],[39,-0.34],[40,-0.26],[41,-0.18],[42,-0.10],[42.5,-0.02],[43.5,0.06],[44,0.14],[45,0.22],[45.5,0.30],[46.5,0.38],[47,0.46],[48,0.54],[49,0.62],[50,0.70],[51,0.78],[52,0.86],[53,0.94],[54,1.02],[55,1.10],[56,1.18],[57,1.26],[58,1.34]
];
const dGreen = [
  [26,0.67],[22,0.68],[18,0.68],[14,0.68],[10,0.67],[6,0.66],[2,0.64],[-2,0.62],[-6,0.59],[-10,0.56],[-14,0.51],[-17.5,0.46],[-20.5,0.40],[-23.5,0.33],[-26,0.25],[-28,0.17],[-29.5,0.08],[-30.5,-0.01],[-31,-0.10],[-31,-0.19],[-31,-0.28],[-30.5,-0.37],[-29.5,-0.46],[-28,-0.54],[-25.5,-0.61],[-22.5,-0.66],[-19,-0.69],[-15,-0.71],[-11,-0.71],[-7,-0.70],[-3,-0.68],[1,-0.66],[5,-0.63],[9,-0.60],[13,-0.56],[16.5,-0.51],[20,-0.45],[23,-0.39],[26,-0.32],[28.5,-0.25],[30.5,-0.17],[32.5,-0.09],[34,0],[35,0.09],[36,0.18],[37,0.27],[37.5,0.36],[37.5,0.45],[37,0.54],[35,0.61],[32,0.65],[29,0.67],
  [24,0.59],[20,0.60],[16,0.60],[12,0.59],[8,0.58],[4,0.56],[0,0.54],[-4,0.51],[-8,0.47],[-11.5,0.43],[-15,0.38],[-18,0.32],[-20.5,0.26],[-22.5,0.19],[-24.5,0.11],[-26,0.03],[-26.5,-0.06],[-27,-0.15],[-27,-0.24],[-26.5,-0.33],[-25.5,-0.41],[-23.5,-0.48],[-21,-0.54],[-18,-0.58],[-14.5,-0.61],[-10.5,-0.62],[-6.5,-0.61],[-2.5,-0.59],[1.5,-0.57],[5.5,-0.53],[9,-0.49],[12.5,-0.44],[16,-0.39],[19,-0.33],[22,-0.26],[24.5,-0.19],[26.5,-0.11],[28.5,-0.03],[30,0.06],[31.5,0.15],[32.5,0.24],[33.5,0.33],[33.5,0.42],[32.5,0.50],[30,0.56],[27,0.58]
];

// ---------- (e) ----------
const eBlue = [
  [150,1.77],[147,1.76],[143,1.79],[140,1.78],[137,1.80],[131,1.77],[126,1.78],[118,1.77],[111,1.78],[103,1.76],[95,1.75],[88,1.76],[82,1.74],[78,1.76],[72,1.75],[66,1.73],[58,1.74],[52,1.73],[45,1.73],[36,1.71],[31,1.73],[24,1.73],[16,1.71],[10,1.70],[4,1.71],[-2,1.70],[-6,1.68],[-10,1.67],[-16,1.67],[-22,1.65],[-26,1.64],[-30,1.64],[-33,1.63],[-36,1.62],[-39,1.61],[-41,1.60],[-43,1.59],[-45,1.57],[-46.5,1.53],[-47.5,1.49],[-48.5,1.45],[-50,1.40],[-51,1.35],[-52,1.29],[-52.5,1.23],[-54,1.16],[-55,1.12],[-57,1.06],[-58,1.01],[-59.5,0.96],[-60,0.90],[-61,0.84],[-62,0.78],[-63,0.72],[-63.5,0.65],[-64,0.58],[-64.5,0.51],[-65,0.44],[-66,0.37],[-67,0.30],[-68.5,0.22],[-70,0.15],[-71.5,0.09],[-73,0.03],[-75,-0.04],[-76.5,-0.10],[-78,-0.17],[-79.5,-0.25],[-80.5,-0.33],[-81.5,-0.42],[-82.5,-0.50],[-84,-0.58],[-85.5,-0.65],[-87.5,-0.72],[-90,-0.78],[-92.5,-0.83],[-95.5,-0.88],[-98.5,-0.94],[-101,-1.00],[-103,-1.07],[-105,-1.14],[-107,-1.21],[-109.5,-1.27],[-112,-1.33],[-114,-1.40],[-116.5,-1.47],[-119.5,-1.53],[-123,-1.58],[-127,-1.62],[-131,-1.65],[-135,-1.67],[-139,-1.70],[-143,-1.72],[-147,-1.73],[-150,-1.77],
  [-44,1.55],[-48,1.42],[-51.5,1.33],[-53,1.20],[-56,1.08],[-59,0.99],[-61.5,0.87],[-62.5,0.74],[-63.5,0.62],[-65.5,0.47],[-67.5,0.33],[-70.5,0.19],[-74,0.06],[-77,-0.07],[-79,-0.20],[-81,-0.37],[-83,-0.54],[-86.5,-0.69],[-89,-0.74],[-94,-0.86],[-97,-0.90],[-100,-0.97],[-104,-1.10],[-106,-1.17],[-110,-1.30],[-115,-1.43],[-118,-1.50],[-121,-1.56],[-125,-1.60],[-133,-1.66],[-141,-1.71],[-145,-1.75],
  [-148,-1.79],[-140,-1.79],[-133,-1.78],[-127,-1.77],[-122,-1.76],[-116,-1.76],[-109,-1.78],[-102,-1.77],[-96,-1.76],[-91,-1.75],[-79,-1.76],[-71,-1.74],[-63,-1.75],[-58,-1.74],[-51,-1.74],[-45,-1.74],[-40,-1.71],[-34,-1.70],[-30,-1.70],[-25,-1.71],[-19,-1.71],[-13,-1.69],[-10,-1.68],[-4,-1.69],[2,-1.70],[5,-1.68],[10,-1.68],[15,-1.68],[21,-1.67],[27,-1.66],[33,-1.63],[37,-1.62],[41,-1.61],[43,-1.60],[47,-1.58],[50,-1.56],[52,-1.53],[53.5,-1.49],[54,-1.44],[54.5,-1.40],[55.5,-1.34],[56.5,-1.28],[57.5,-1.23],[58.5,-1.17],[59.5,-1.11],[60.5,-1.06],[62,-1.00],[63,-0.95],[64.5,-0.89],[65.5,-0.82],[66,-0.76],[66.5,-0.69],[67,-0.63],[67.5,-0.56],[68,-0.50],[68.5,-0.43],[69,-0.37],[70,-0.31],[71.5,-0.26],[73,-0.21],[74.5,-0.16],[76,-0.11],[77.5,-0.05],[78.5,0],[80,0.06],[81,0.11],[82.5,0.16],[83.5,0.22],[84.5,0.29],[85.5,0.36],[86.5,0.43],[87,0.50],[88,0.57],[89,0.63],[90.5,0.68],[92,0.72],[93.5,0.76],[95.5,0.80],[97,0.85],[98.5,0.90],[100,0.95],[101.5,1.00],[103,1.05],[105,1.10],[106.5,1.15],[108,1.21],[109.5,1.26],[110.5,1.32],[112,1.37],[113.5,1.42],[115,1.46],[117,1.52],[119,1.56],[121,1.59],[124,1.61],[127,1.63],[131,1.65],[134,1.66],[137,1.67],[140,1.69],[143.5,1.71],[146.5,1.72],[149,1.74],
  [55,-1.47],[56,-1.37],[57,-1.31],[58,-1.20],[60,-1.14],[61.5,-1.03],[63.5,-0.92],[65,-0.79],[65.5,-0.66],[64,-0.60],[66,-0.53],[67,-0.47],[69,-0.40],[72,-0.23],[75,-0.14],[79,-0.03],[81.5,0.08],[84,0.25],[86,0.40],[88,0.46],[88.5,0.60],[91,0.70],[96,0.83],[99,0.92],[102,1.02],[104,1.08],[107,1.18],[109,1.30],[111,1.40],[113,1.48],[116,1.49],[118,1.58],[123,1.62],[129,1.64],[136,1.68],[142,1.70]
];
const eRed = [
  [74,1.30],[72,1.36],[69,1.40],[65,1.43],[61,1.44],[57,1.44],[53,1.43],[49,1.43],[45,1.44],[41,1.43],[37,1.43],[33,1.42],[29,1.42],[25,1.41],[21,1.41],[17,1.40],[13,1.40],[9,1.39],[5,1.38],[1,1.37],[-3,1.36],[-7,1.35],[-11,1.34],[-15,1.32],[-19,1.30],[-23,1.27],[-27,1.24],[-31,1.21],[-35,1.18],[-38,1.15],[-40,1.10],[-41.5,1.04],[-42.5,0.98],[-43.5,0.91],[-44.5,0.84],[-45.5,0.77],[-46.5,0.70],[-47.5,0.63],[-48.5,0.56],[-49.5,0.49],[-50.5,0.42],[-51.5,0.35],[-52.5,0.28],[-53.5,0.21],[-54.5,0.14],[-55.5,0.07],[-56.5,0],[-57.5,-0.07],[-58.5,-0.14],[-59.5,-0.21],[-60.5,-0.28],[-61.5,-0.35],[-62.5,-0.42],[-63,-0.49],[-64,-0.56],[-64.5,-0.63],[-65.5,-0.70],[-66,-0.77],[-67,-0.84],[-67.5,-0.91],[-68,-0.98],[-68,-1.05],[-68,-1.12],[-67,-1.19],[-65.5,-1.25],[-63,-1.30],
  [64,1.37],[60,1.38],[56,1.38],[52,1.38],[48,1.38],[44,1.38],[40,1.37],[36,1.37],[32,1.37],[28,1.36],[24,1.36],[20,1.35],[16,1.35],[12,1.34],[8,1.33],[4,1.32],[0,1.31],[-4,1.30],[-8,1.29],[-12,1.27],[-16,1.25],[-20,1.22],[-24,1.19],[-28,1.15],[-31.5,1.11],[-34.5,1.06],[-36.5,1.00],[-38,0.93],[-39.5,0.86],[-40.5,0.79],[-41.5,0.72],[-42.5,0.65],[-43.5,0.58],[-44.5,0.51],[-45.5,0.44],[-46.5,0.37],[-47.5,0.30],[-48.5,0.23],[-49.5,0.16],[-50.5,0.09],[-51.5,0.02],[-52.5,-0.05],[-53.5,-0.12],[-54.5,-0.19],[-55.5,-0.26],[-56.5,-0.33],[-57.5,-0.40],[-58.5,-0.47],[-59.5,-0.54],[-60.5,-0.61],[-61.5,-0.68],[-62,-0.75],[-63,-0.82],[-63.5,-0.89],[-64,-0.96],[-64,-1.03],[-63,-1.10],
  [-60,-1.34],[-56,-1.37],[-52,-1.39],[-48,-1.41],[-44,-1.43],[-40,-1.44],[-36,-1.44],[-32,-1.44],[-28,-1.44],[-24,-1.43],[-20,-1.42],[-16,-1.42],[-12,-1.41],[-8,-1.40],[-4,-1.39],[0,-1.37],[4,-1.36],[8,-1.34],[12,-1.32],[16,-1.30],[20,-1.27],[24,-1.24],[28,-1.20],[31.5,-1.16],[34.5,-1.11],[37,-1.05],[39,-0.99],[41,-0.92],[42.5,-0.85],[43.5,-0.78],[44.5,-0.71],[45.5,-0.64],[46.5,-0.57],[47.5,-0.50],[48.5,-0.43],[49.5,-0.36],[50.5,-0.29],[51.5,-0.22],[52.5,-0.15],[53.5,-0.08],[54.5,-0.01],[55.5,0.06],[56.5,0.13],[57.5,0.20],[58.5,0.27],[59.5,0.34],[60.5,0.41],[61.5,0.48],[62.5,0.55],[63.5,0.62],[64.5,0.69],[65.5,0.76],[66.5,0.83],[67.5,0.90],[68.5,0.97],[69.5,1.04],[71,1.11],[72,1.18],[73,1.25],
  [-56,-1.30],[-52,-1.33],[-48,-1.35],[-44,-1.37],[-40,-1.38],[-36,-1.38],[-32,-1.38],[-28,-1.38],[-24,-1.37],[-20,-1.37],[-16,-1.36],[-12,-1.35],[-8,-1.34],[-4,-1.33],[0,-1.32],[4,-1.30],[8,-1.28],[12,-1.26],[16,-1.23],[20,-1.20],[24,-1.16],[27.5,-1.12],[30.5,-1.07],[33,-1.01],[35,-0.95],[37,-0.88],[38.5,-0.81],[39.5,-0.74],[40.5,-0.67],[41.5,-0.60],[42.5,-0.53],[43.5,-0.46],[44.5,-0.39],[45.5,-0.32],[46.5,-0.25],[47.5,-0.18],[48.5,-0.11],[49.5,-0.04],[50.5,0.03],[51.5,0.10],[52.5,0.17],[53.5,0.24],[54.5,0.31],[55.5,0.38],[56.5,0.45],[57.5,0.52],[58.5,0.59],[59.5,0.66],[60.5,0.73],[61.5,0.80],[62.5,0.87],[63.5,0.94],[65,1.01],[66,1.08],[67,1.15],[68,1.22]
];
const eGreen = [
  [30,0.73],[26,0.74],[22,0.75],[18,0.75],[14,0.74],[10,0.73],[6,0.71],[2,0.69],[-2,0.67],[-6,0.64],[-10,0.61],[-14,0.57],[-18,0.53],[-21.5,0.48],[-25,0.42],[-28,0.36],[-31,0.29],[-33.5,0.21],[-35.5,0.13],[-37,0.05],[-38,-0.04],[-38.5,-0.13],[-38.5,-0.22],[-38.5,-0.31],[-38,-0.40],[-37,-0.49],[-35.5,-0.57],[-33,-0.64],[-30,-0.70],[-26.5,-0.74],[-22.5,-0.77],[-18.5,-0.78],[-14.5,-0.78],[-10.5,-0.77],[-6.5,-0.75],[-2.5,-0.72],[1.5,-0.70],[5.5,-0.67],[9.5,-0.63],[13.5,-0.59],[17,-0.54],[20.5,-0.49],[24,-0.43],[27,-0.37],[30,-0.30],[32.5,-0.23],[35,-0.15],[37,-0.07],[39,0.01],[40.5,0.10],[41.5,0.19],[42.5,0.28],[43,0.37],[43.5,0.46],[43.5,0.55],[42.5,0.62],[40.5,0.67],[37.5,0.70],[34,0.72],
  [28,0.66],[24,0.67],[20,0.67],[16,0.67],[12,0.66],[8,0.65],[4,0.63],[0,0.61],[-4,0.58],[-8,0.55],[-12,0.51],[-15.5,0.47],[-19,0.42],[-22,0.37],[-25,0.31],[-27.5,0.24],[-30,0.17],[-32,0.09],[-33.5,0.01],[-34.5,-0.08],[-35,-0.17],[-35,-0.26],[-34.5,-0.35],[-33.5,-0.44],[-31.5,-0.52],[-29,-0.59],[-25.5,-0.64],[-22,-0.67],[-18,-0.69],[-14,-0.69],[-10,-0.68],[-6,-0.66],[-2,-0.63],[2,-0.60],[6,-0.57],[10,-0.53],[13.5,-0.49],[17,-0.44],[20.5,-0.38],[23.5,-0.32],[26.5,-0.25],[29,-0.18],[31.5,-0.10],[33.5,-0.02],[35.5,0.06],[37,0.15],[38.5,0.24],[39.5,0.33],[40,0.42],[40,0.51],[38.5,0.58],[36,0.62],[32,0.65]
];

// ---------- (f) sparse sampling ----------
const fBlue = [
  [74.5,1.45],[76.5,1.46],[78.5,1.46],[87,1.41],[89,1.41],[91,1.40],[93.5,1.32],[95.5,1.32],[97.5,1.31],[90.5,1.19],[92.5,1.19],[94.5,1.19],[86.5,1.02],[88.5,1.03],[90,1.02],[81.5,0.83],[83,0.82],[78,0.60],[80,0.61],[71.5,0.36],[73.5,0.37],[75,0.38],[65.5,0.10],[67,0.11],[68.5,0.12],[63,-0.13],[64,-0.17],[65,-0.18],[62.5,-0.39],[63.5,-0.42],[64.5,-0.43],[59,-0.66],[61,-0.65],[62.5,-0.64],[52.5,-0.88],[54.5,-0.87],[56,-0.86],[45,-1.07],[47,-1.06],[48.5,-1.05],[31,-1.23],[33,-1.22],[34.5,-1.22],[2.5,-1.35],[4.5,-1.35],[6.5,-1.35],[-24,-1.42],[-22,-1.42],[-20,-1.42],[-18,-1.42],[-52,-1.46],[-50,-1.46],[-48,-1.47],[-46,-1.47],[-43.5,-1.47],[-70,-1.45],[-68,-1.46],[-80.5,-1.40],[-79,-1.39],[-88.5,-1.31],[-86.5,-1.32],[-91,-1.17],[-90,-1.19],[-89,-1.01],[-87.5,-0.99],[-83,-0.81],[-81.5,-0.79],[-76,-0.59],[-74.5,-0.57],[-72,-0.36],[-70.5,-0.34],[-69,-0.11],[-67.5,-0.10],[-64.5,0.16],[-63,0.18],[-60,0.41],[-58.5,0.43],[-56,0.66],[-55,0.69],[-55,0.88],[-54,0.91],[-51,1.07],[-49.5,1.09],[-48,1.10],[-36,1.22],[-34,1.23],[-32,1.25],[-0.5,1.33],[1,1.35],[2.5,1.36],[29.5,1.42],[31,1.43],[32.5,1.44],[57,1.46],[59,1.47]
];
const fRed = [
  [49,0.98],[51,0.97],[53,0.95],[55,0.93],[34,0.99],[36.5,0.99],[38.5,0.98],[21.5,0.97],[23.5,0.97],[5,0.92],[7,0.92],[9,0.93],[-12,0.85],[-10,0.86],[-8,0.86],[-26,0.73],[-24,0.74],[-22,0.75],[-35,0.62],[-33,0.62],[-31,0.61],[-40,0.47],[-38,0.46],[-45,0.32],[-43,0.31],[-49,0.15],[-47,0.16],[-52,-0.01],[-50,-0.02],[-53.5,-0.21],[-54,-0.36],[-52,-0.36],[-57,-0.51],[-55,-0.50],[-56.5,-0.65],[-54.5,-0.65],[-55.5,-0.75],[-54,-0.78],[-52.5,-0.80],[-51,-0.86],[-49.5,-0.88],[-46,-0.93],[-44,-0.94],[-42.5,-0.95],[-39.5,-0.97],[-37.5,-0.98],[-31,-0.98],[-29,-0.99],[-27,-0.99],[-19,-0.97],[-17,-0.97],[-15,-0.97],[-4,-0.91],[-2,-0.90],[8.5,-0.84],[10.5,-0.84],[18.5,-0.73],[20.5,-0.73],[27,-0.60],[29,-0.60],[31,-0.60],[35,-0.46],[37,-0.46],[39,-0.45],[41,-0.30],[43,-0.30],[45,-0.14],[47,-0.14],[49,0.04],[51,0.04],[53.5,0.21],[56.5,0.38],[58,0.54],[59,0.67],[59.5,0.79],[57.5,0.89],[59,0.87]
];
const fGreen = [
  [27,0.63],[29,0.64],[31,0.63],[35,0.62],[37,0.61],[39.5,0.56],[41,0.55],[43.5,0.50],[45,0.49],[43.5,0.42],[45.5,0.42],[42,0.33],[43.5,0.33],[40.5,0.23],[42.5,0.23],[39.5,0.11],[41.5,0.11],[37.5,0.01],[39.5,0.01],[31,-0.10],[33,-0.10],[35,-0.11],[26,-0.21],[28,-0.20],[21.5,-0.31],[23.5,-0.31],[25.5,-0.31],[18.5,-0.41],[9,-0.49],[11,-0.48],[-0.5,-0.55],[1.5,-0.54],[-8,-0.61],[-6,-0.60],[-4,-0.60],[-17,-0.65],[-15,-0.64],[-13,-0.64],[-21,-0.64],[-30,-0.63],[-28,-0.62],[-26,-0.61],[-33,-0.60],[-36,-0.55],[-39,-0.46],[-37.5,-0.45],[-39,-0.35],[-37.5,-0.33],[-39.5,-0.25],[-38,-0.26],[-38,-0.12],[-36,-0.12],[-35.5,-0.02],[-33.5,-0.03],[-33.5,0.09],[-32,0.10],[-29.5,0.21],[-28,0.22],[-25,0.32],[-23,0.33],[-16.5,0.41],[-14.5,0.42],[-10,0.48],[-8,0.50],[-1.5,0.55],[0.5,0.56],[2,0.57],[8,0.60],[10,0.61],[17,0.62],[19.5,0.63]
];

// ---------- drawing ----------
const COLORS = { blue: "#4a7ebb", red: "#be4b48", green: "#98b954" };
const SHAPES = {
  diamond: "M0,-3.7L3.7,0L0,3.7L-3.7,0Z",
  square: "M-3.7,-3.7h7.4v7.4h-7.4Z",
  triangle: "M0,-4.3L4.1,2.9L-4.1,2.9Z"
};

const svg = d3.select("#fig");

// Each panel: frame box, plot-area pixel extents and axis title styles
const panels = [
  { frame:[8,8,548,345],    px:[30,537],   py:[16,324],   hTicks:ticksH100, hDom:[-100,100],
    series:[aBlue,aRed,aGreen], bTitle:"B (T)", hTitle:"H (A/m)", big:true,  bx:17,  hy:336, label:[283,362] },
  { frame:[580,8,1118,345], px:[598,1107], py:[17,327],   hTicks:ticksH100, hDom:[-100,100],
    series:[bBlue,bRed,bGreen], bTitle:"B (T)", hTitle:"H (A/m)", big:false, bx:588, hy:333, label:[853,362] },
  { frame:[8,407,548,743],  px:[29,537],   py:[416,722],  hTicks:ticksH150, hDom:[-150,150],
    series:[cBlue,cRed,cGreen], bTitle:"B (T)", hTitle:"H (A/m)", big:true,  bx:17,  hy:735, label:[283,759] },
  { frame:[580,407,1118,743], px:[598,1107], py:[414,725], hTicks:ticksH150, hDom:[-150,150],
    series:[dBlue,dRed,dGreen], bTitle:"B(T)", hTitle:"H(A/m)", big:false, bx:587, hy:731, label:[853,759] },
  { frame:[8,804,548,1139], px:[26,538],   py:[812,1121], hTicks:ticksH150, hDom:[-150,150],
    series:[eBlue,eRed,eGreen], bTitle:"B(T)", hTitle:"H(A/m)", big:false, bx:14,  hy:1130, label:[283,1158] },
  { frame:[579,807,1118,1139], px:[602,1108], py:[814,1118], hTicks:ticksH150, hDom:[-150,150],
    series:[fBlue,fRed,fGreen], bTitle:"B (T)", hTitle:"H (A/m)", big:true, bx:588, hy:1129, label:[855,1158] }
];

const seriesStyle = [
  { color: COLORS.blue,  shape: SHAPES.diamond },
  { color: COLORS.red,   shape: SHAPES.square },
  { color: COLORS.green, shape: SHAPES.triangle }
];

panels.forEach((p, i) => {
  const g = svg.append("g");
  const [fx0, fy0, fx1, fy1] = p.frame;

  g.append("rect")
    .attr("x", fx0 + 0.5).attr("y", fy0 + 0.5)
    .attr("width", fx1 - fx0 - 1).attr("height", fy1 - fy0 - 1)
    .attr("fill", "#fff").attr("stroke", "#d0d0d0").attr("stroke-width", 1);

  const x = d3.scaleLinear().domain(p.hDom).range(p.px);
  const y = d3.scaleLinear().domain([2, -2]).range(p.py);

  // horizontal gridlines
  const grid = g.append("g")
    .attr("transform", `translate(${p.px[0]},0)`)
    .call(d3.axisLeft(y).tickValues(ticksB).tickSize(-(p.px[1] - p.px[0])).tickFormat(""));
  grid.select(".domain").remove();
  grid.selectAll(".tick line").attr("stroke", "#9a9a9a").attr("stroke-width", 1)
    .attr("shape-rendering", "crispEdges");

  // vertical axis through H = 0
  g.append("line")
    .attr("x1", x(0)).attr("x2", x(0)).attr("y1", y(2)).attr("y2", y(-2))
    .attr("stroke", "#9a9a9a").attr("stroke-width", 1).attr("shape-rendering", "crispEdges");

  const tickFont = "Liberation Sans, Arial, sans-serif";

  // B tick labels, left of the vertical axis
  const yAx = g.append("g")
    .attr("transform", `translate(${x(0)},0)`)
    .call(d3.axisLeft(y).tickValues(ticksB).tickSize(0).tickPadding(4).tickFormat(d => String(d)));
  yAx.select(".domain").remove();
  yAx.selectAll("text").attr("font-family", tickFont).attr("font-size", 6.5).attr("fill", "#5a5a5a");

  // H tick labels, below the B = 0 line
  const xAx = g.append("g")
    .attr("transform", `translate(0,${y(0)})`)
    .call(d3.axisBottom(x).tickValues(p.hTicks).tickSize(0).tickPadding(8).tickFormat(d => String(d)));
  xAx.select(".domain").remove();
  xAx.selectAll("text").attr("font-family", tickFont).attr("font-size", 6.5).attr("fill", "#5a5a5a");

  // markers: blue, red, green in plotting order
  p.series.forEach((data, k) => {
    const st = seriesStyle[k];
    g.append("g").selectAll("path")
      .data(data)
      .join("path")
      .attr("d", st.shape)
      .attr("transform", d => `translate(${x(d[0])},${y(d[1])})`)
      .attr("fill", st.color);
  });

  // axis titles
  const titleSize = p.big ? 8.5 : 6;
  const titleWeight = p.big ? "bold" : "normal";
  g.append("text")
    .attr("transform", `translate(${p.bx},${y(0)}) rotate(-90)`)
    .attr("text-anchor", "middle").attr("dominant-baseline", "central")
    .attr("font-family", tickFont).attr("font-size", titleSize).attr("font-weight", titleWeight)
    .attr("fill", "#404040").text(p.bTitle);
  g.append("text")
    .attr("x", x(0)).attr("y", p.hy)
    .attr("text-anchor", "middle").attr("dominant-baseline", "central")
    .attr("font-family", tickFont).attr("font-size", titleSize).attr("font-weight", titleWeight)
    .attr("fill", "#404040").text(p.hTitle);

  // panel letter
  svg.append("text")
    .attr("x", p.label[0]).attr("y", p.label[1])
    .attr("text-anchor", "middle").attr("dominant-baseline", "central")
    .attr("font-family", "Liberation Serif, Times New Roman, serif")
    .attr("font-size", 22).attr("font-weight", "bold").attr("fill", "#000")
    .text(panelLetters[i]);
});
</script>
</body>
</html>
